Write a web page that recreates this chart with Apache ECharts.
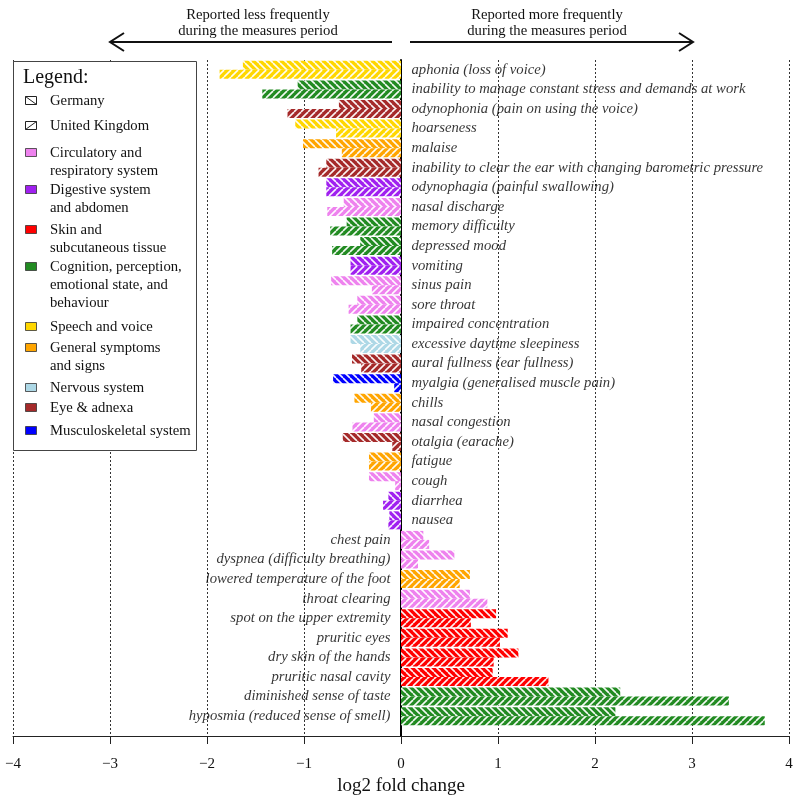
<!DOCTYPE html>
<html>
<head>
<meta charset="utf-8">
<script src="https://cdn.jsdelivr.net/npm/echarts@6/dist/echarts.min.js"></script>
<style>html,body{margin:0;padding:0;background:#fff}#c{width:799px;height:795px}</style>
</head>
<body>
<div id="c"></div>
<script>
// ---- data ----
const categories = [
  'aphonia (loss of voice)',
  'inability to manage constant stress and demands at work',
  'odynophonia (pain on using the voice)',
  'hoarseness',
  'malaise',
  'inability to clear the ear with changing barometric pressure',
  'odynophagia (painful swallowing)',
  'nasal discharge',
  'memory difficulty',
  'depressed mood',
  'vomiting',
  'sinus pain',
  'sore throat',
  'impaired concentration',
  'excessive daytime sleepiness',
  'aural fullness (ear fullness)',
  'myalgia (generalised muscle pain)',
  'chills',
  'nasal congestion',
  'otalgia (earache)',
  'fatigue',
  'cough',
  'diarrhea',
  'nausea',
  'chest pain',
  'dyspnea (difficulty breathing)',
  'lowered temperature of the foot',
  'throat clearing',
  'spot on the upper extremity',
  'pruritic eyes',
  'dry skin of the hands',
  'pruritic nasal cavity',
  'diminished sense of taste',
  'hyposmia (reduced sense of smell)'
];
const germany = [-1.63,-1.065,-0.64,-1.09,-1.01,-0.77,-0.77,-0.59,-0.56,-0.42,-0.52,-0.72,-0.45,-0.45,-0.52,-0.505,-0.70,-0.48,-0.28,-0.60,-0.33,-0.33,-0.13,-0.12,0.23,0.55,0.71,0.71,0.98,1.10,1.21,0.945,2.26,2.21];
const uk      = [-1.87,-1.43,-1.17,-0.67,-0.61,-0.85,-0.77,-0.76,-0.73,-0.71,-0.52,-0.30,-0.54,-0.52,-0.42,-0.41,-0.07,-0.31,-0.50,-0.09,-0.33,-0.06,-0.185,-0.13,0.29,0.175,0.605,0.89,0.72,1.02,0.955,1.52,3.38,3.75];
const groups = ['Circulatory and\nrespiratory system','Digestive system\nand abdomen','Skin and\nsubcutaneous tissue','Cognition, perception,\nemotional state, and\nbehaviour','Speech and voice','General symptoms\nand signs','Nervous system','Eye & adnexa','Musculoskeletal system'];
const groupColors = ['#EE82EE','#A020F0','#FF0000','#228B22','#FFD700','#FFA500','#ADD8E6','#A52A2A','#0000FF'];
const categoryGroup = [4,3,7,4,5,7,1,0,3,3,1,0,0,3,6,7,8,5,0,7,5,0,1,1,0,0,5,0,2,2,2,2,3,3];
const seriesNames = ['Germany','United Kingdom'];
const xTicks = [-4,-3,-2,-1,0,1,2,3,4];
const leftNote = 'Reported less frequently\nduring the measures period';
const rightNote = 'Reported more frequently\nduring the measures period';

// ---- style / layout ----
const FONT = "'Liberation Serif','Times New Roman',serif";
const TXT = '#000';
const FS = 14.7;
const patCache = {};
function pattern(color, dir) {
  const key = color + dir;
  if (patCache[key]) return patCache[key];
  const s = 7;
  const cv = document.createElement('canvas');
  cv.width = s; cv.height = s;
  const g = cv.getContext('2d');
  g.fillStyle = color; g.fillRect(0,0,s,s);
  g.strokeStyle = 'rgba(255,255,255,0.95)'; g.lineWidth = 1.6;
  for (let k = -s; k <= s; k += s) {
    g.beginPath();
    if (dir === 'back') { g.moveTo(k, 0); g.lineTo(k + s, s); }
    else { g.moveTo(k, s); g.lineTo(k + s, 0); }
    g.stroke();
  }
  patCache[key] = {image: cv, repeat: 'repeat'};
  return patCache[key];
}
function barData(vals, dir) {
  return vals.map((v, i) => ({value: v, itemStyle: {color: pattern(groupColors[categoryGroup[i]], dir)}}));
}

const chart = echarts.init(document.getElementById('c'), null, {renderer: 'canvas'});

// legend graphic
const legendY = [101,126,153,190,230,267,327,348,388,408,431];
const legendEls = [];
legendEls.push({type:'rect', shape:{x:13.5,y:61.5,width:183,height:389}, style:{fill:'#fff',stroke:'#444',lineWidth:1}, z:100});
legendEls.push({type:'text', style:{x:23,y:78,text:'Legend:',font:'20px '+FONT,fill:'#111',verticalAlign:'middle'}, z:101});
const legendLabels = seriesNames.concat(groups);
legendLabels.forEach((lab, i) => {
  const y = legendY[i];
  const sx = 25.5, sy = y - 4.5, sw = 11, sh = 8;
  if (i < 2) {
    legendEls.push({type:'rect', shape:{x:sx,y:sy,width:sw,height:sh}, style:{fill:'#fff',stroke:'#222',lineWidth:1}, z:101});
    legendEls.push({type:'line', shape: i===0 ? {x1:sx,y1:sy,x2:sx+sw,y2:sy+sh} : {x1:sx,y1:sy+sh,x2:sx+sw,y2:sy}, style:{stroke:'#222',lineWidth:1}, z:101});
  } else {
    legendEls.push({type:'rect', shape:{x:sx,y:sy,width:sw,height:sh}, style:{fill:groupColors[i-2],stroke:'#333',lineWidth:0.8}, z:101});
  }
  legendEls.push({type:'text', style:{x:50,y:y,text:lab,font:FS+'px '+FONT,fill:'#111',verticalAlign:'top',lineHeight:18}, z:101, position:[0,-9]});
});

// top notes & arrows
const noteEls = [
  {type:'text', style:{x:258,y:23,text:leftNote,font:FS+'px '+FONT,fill:'#111',align:'center',verticalAlign:'middle',lineHeight:16}},
  {type:'text', style:{x:547,y:23,text:rightNote,font:FS+'px '+FONT,fill:'#111',align:'center',verticalAlign:'middle',lineHeight:16}},
  {type:'line', shape:{x1:110,y1:42,x2:392,y2:42}, style:{stroke:'#111',lineWidth:2}},
  {type:'polyline', shape:{points:[[124,33],[110,42],[124,51]]}, style:{stroke:'#111',lineWidth:2,fill:null}},
  {type:'line', shape:{x1:410,y1:42,x2:693,y2:42}, style:{stroke:'#111',lineWidth:2}},
  {type:'polyline', shape:{points:[[679,33],[693,42],[679,51]]}, style:{stroke:'#111',lineWidth:2,fill:null}}
];

const option = {
  animation: false,
  backgroundColor: '#fff',
  grid: [
    {left: 13, right: 10, top: 60, height: 666, outerBoundsMode: 'none', containLabel: false},
    {left: 13, right: 10, top: 60, bottom: 59, outerBoundsMode: 'none', containLabel: false}
  ],
  xAxis: [
    {gridIndex: 0, type: 'value', min: xTicks[0], max: xTicks[xTicks.length-1], interval: 1, show: false},
    {gridIndex: 1, type: 'value', min: xTicks[0], max: xTicks[xTicks.length-1], interval: 1,
     axisLine: {show: true, onZero: false, lineStyle: {color: '#222', width: 1}},
     axisTick: {show: true, length: 8, lineStyle: {color: '#222'}},
     axisLabel: {margin: 21, fontFamily: FONT, fontSize: 15, color: '#111', formatter: v => (v < 0 ? '\u2212' + Math.abs(v) : String(v))},
     splitLine: {show: true, lineStyle: {color: '#333', type: [2, 2], width: 1}},
     name: 'log2 fold change', nameLocation: 'middle', nameGap: 41,
     nameTextStyle: {fontFamily: FONT, fontSize: 19, color: '#111'}}
  ],
  yAxis: [
    {gridIndex: 0, type: 'category', data: categories, inverse: true, show: false},
    {gridIndex: 1, type: 'value', min: 0, max: 1, show: true,
     axisLine: {show: true, onZero: true, lineStyle: {color: '#000', width: 2}},
     axisTick: {show: false}, axisLabel: {show: false}, splitLine: {show: false}}
  ],
  series: [
    {name: seriesNames[0], type: 'bar', xAxisIndex: 0, yAxisIndex: 0, data: barData(germany, 'back'), barWidth: 9, barGap: '0%', z: 3},
    {name: seriesNames[1], type: 'bar', xAxisIndex: 0, yAxisIndex: 0, data: barData(uk, 'fwd'), barWidth: 9, barGap: '0%', z: 3},
    {type: 'scatter', xAxisIndex: 0, yAxisIndex: 0, symbolSize: 1, itemStyle: {color: 'rgba(0,0,0,0)'}, z: 4,
     data: categories.map((c, i) => ({value: [0, c], label: {position: germany[i] > 0 ? 'left' : 'right'}})),
     label: {show: true, distance: 10, formatter: p => p.value[1], fontFamily: FONT, fontStyle: 'italic', fontSize: FS, color: TXT, textBorderWidth: 0}}
  ],
  graphic: {elements: legendEls.concat(noteEls)}
};
chart.setOption(option);
</script>
</body>
</html>
